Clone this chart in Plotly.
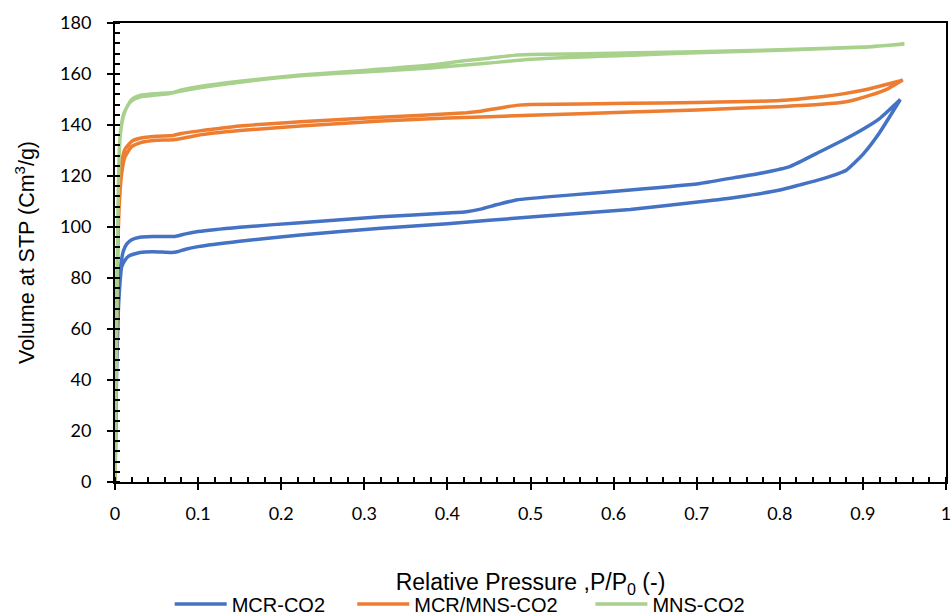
import plotly.graph_objects as go

# MCR-CO2
mcr_ads_p = [0, 0.001, 0.002, 0.004, 0.006, 0.008, 0.012, 0.016, 0.022, 0.03, 0.045, 0.06, 0.068, 0.075, 0.085, 0.1, 0.15, 0.223, 0.32, 0.4, 0.5, 0.62, 0.704, 0.75, 0.8, 0.824, 0.85, 0.88, 0.9, 0.92, 0.945]
mcr_ads_v = [0, 22, 45, 67, 78, 84.4, 87, 88.5, 89.3, 90, 90.3, 90.1, 90.0, 90.3, 91.3, 92.3, 94.4, 96.9, 99.5, 101.3, 103.9, 106.9, 109.9, 111.8, 114.5, 116.5, 118.8, 122.3, 128.5, 137, 150]
mcr_des_p = [0.945, 0.92, 0.9, 0.876, 0.85, 0.812, 0.78, 0.75, 0.704, 0.62, 0.55, 0.483, 0.46, 0.44, 0.423, 0.4, 0.32, 0.223, 0.15, 0.1, 0.085, 0.072, 0.06, 0.045, 0.03, 0.02, 0.014, 0.01, 0.007, 0.005, 0.004]
mcr_des_v = [150, 142.5, 138.3, 134, 129.8, 123.7, 121.3, 119.6, 117.1, 114.5, 112.6, 110.6, 108.8, 107, 106, 105.5, 104, 101.7, 99.9, 98.2, 97.3, 96.3, 96.3, 96.3, 96.0, 95.0, 93.3, 90.5, 85, 76, 67]

# MCR/MNS-CO2
mix_ads_p = [0, 0.001, 0.002, 0.003, 0.005, 0.008, 0.012, 0.02, 0.03, 0.05, 0.065, 0.075, 0.1, 0.15, 0.223, 0.32, 0.4, 0.5, 0.62, 0.7, 0.8, 0.85, 0.88, 0.91, 0.93, 0.948]
mix_ads_v = [0, 30, 60, 85, 108, 121, 127.5, 131.5, 133, 134, 134.1, 134.4, 136, 137.8, 139.6, 141.6, 142.7, 143.8, 145.1, 145.9, 147.2, 148.1, 149.1, 151.8, 154.2, 157.6]
mix_des_p = [0.948, 0.92, 0.9, 0.876, 0.85, 0.8, 0.7, 0.62, 0.5, 0.483, 0.46, 0.44, 0.423, 0.32, 0.223, 0.15, 0.1, 0.08, 0.07, 0.05, 0.03, 0.02, 0.012, 0.008, 0.005]
mix_des_v = [157.6, 155.2, 153.6, 152.2, 151.1, 149.6, 148.8, 148.5, 148.0, 147.7, 146.5, 145.4, 144.8, 143.0, 141.3, 139.6, 137.6, 136.7, 135.9, 135.6, 134.8, 133.6, 130.5, 125, 110]

# MNS-CO2
mns_ads_p = [0, 0.001, 0.002, 0.003, 0.004, 0.006, 0.01, 0.015, 0.02, 0.03, 0.05, 0.065, 0.075, 0.1, 0.15, 0.223, 0.3, 0.38, 0.45, 0.5, 0.63, 0.7, 0.8, 0.9, 0.95]
mns_ads_v = [0, 30, 60, 90, 115, 135, 143.3, 147.5, 149.5, 151, 151.8, 152.2, 153, 154.5, 156.8, 159.3, 160.8, 162.4, 164.3, 165.8, 167.5, 168.3, 169.3, 170.5, 171.8]
mns_des_p = [0.95, 0.9, 0.8, 0.7, 0.63, 0.5, 0.48, 0.45, 0.42, 0.38, 0.3, 0.223, 0.15, 0.1, 0.08, 0.07, 0.05, 0.03, 0.02, 0.01, 0.006]
mns_des_v = [171.8, 170.6, 169.5, 168.7, 168.3, 167.6, 167.3, 166.2, 165.2, 163.5, 161.4, 159.6, 157.2, 155.0, 153.7, 152.8, 152.3, 151.6, 150.0, 144.0, 136]

series_names = ["MCR-CO2", "MCR/MNS-CO2", "MNS-CO2"]
colors = ["#4472C4", "#ED7D31", "#A9D18E"]

data = [
    (mcr_ads_p + mcr_des_p, mcr_ads_v + mcr_des_v),
    (mix_ads_p + mix_des_p, mix_ads_v + mix_des_v),
    (mns_ads_p + mns_des_p, mns_ads_v + mns_des_v),
]

pads = ["\u00a0" * 4, "\u00a0" * 5, ""]
fig = go.Figure()
for (px, vy), name, c, pd_ in zip(data, series_names, colors, pads):
    fig.add_trace(go.Scatter(x=px, y=vy, mode="lines", name=name + pd_,
                             line=dict(color=c, width=3.5, shape="spline", smoothing=0.5)))

tickfont = dict(family="Lato, Liberation Sans, sans-serif", size=18, color="#000000")
fig.update_layout(
    width=951, height=615,
    margin=dict(l=115, r=5, t=23, b=133, autoexpand=False),
    paper_bgcolor="white", plot_bgcolor="white",
    showlegend=True,
    legend=dict(orientation="h", x=0.4148, xanchor="center", y=-0.266, yanchor="middle",
                font=dict(family="Liberation Sans, Arial, sans-serif", size=20, color="#000000"),
                itemwidth=52, tracegroupgap=0),
    xaxis=dict(range=[0, 1], dtick=0.1, showline=True, linecolor="black", linewidth=2, mirror=True,
               showgrid=False, zeroline=False, ticks="outside", ticklen=6, tickwidth=2, tickcolor="black",
               minor=dict(dtick=0.02, ticks="inside", ticklen=5, tickwidth=1.5, tickcolor="black", showgrid=False),
               tickfont=tickfont, ticklabelstandoff=8, ticklabeloverflow="allow",
               title=dict(text="Relative Pressure ,P/P<sub>0</sub> (-)", standoff=51,
                          font=dict(family="Liberation Sans, Arial, sans-serif", size=23, color="#000000"))),
    yaxis=dict(range=[0, 180], dtick=20, showline=True, linecolor="black", linewidth=2, mirror=True,
               showgrid=False, zeroline=False, ticks="outside", ticklen=6, tickwidth=2, tickcolor="black",
               minor=dict(dtick=4, ticks="inside", ticklen=5, tickwidth=1.5, tickcolor="black", showgrid=False),
               tickfont=tickfont, ticklabelstandoff=12,
               title=dict(text="Volume at STP (Cm<sup>3</sup>/g)", standoff=20,
                          font=dict(family="Liberation Sans, Arial, sans-serif", size=21.5, color="#000000"))),
)

fig.write_html("out.html")
